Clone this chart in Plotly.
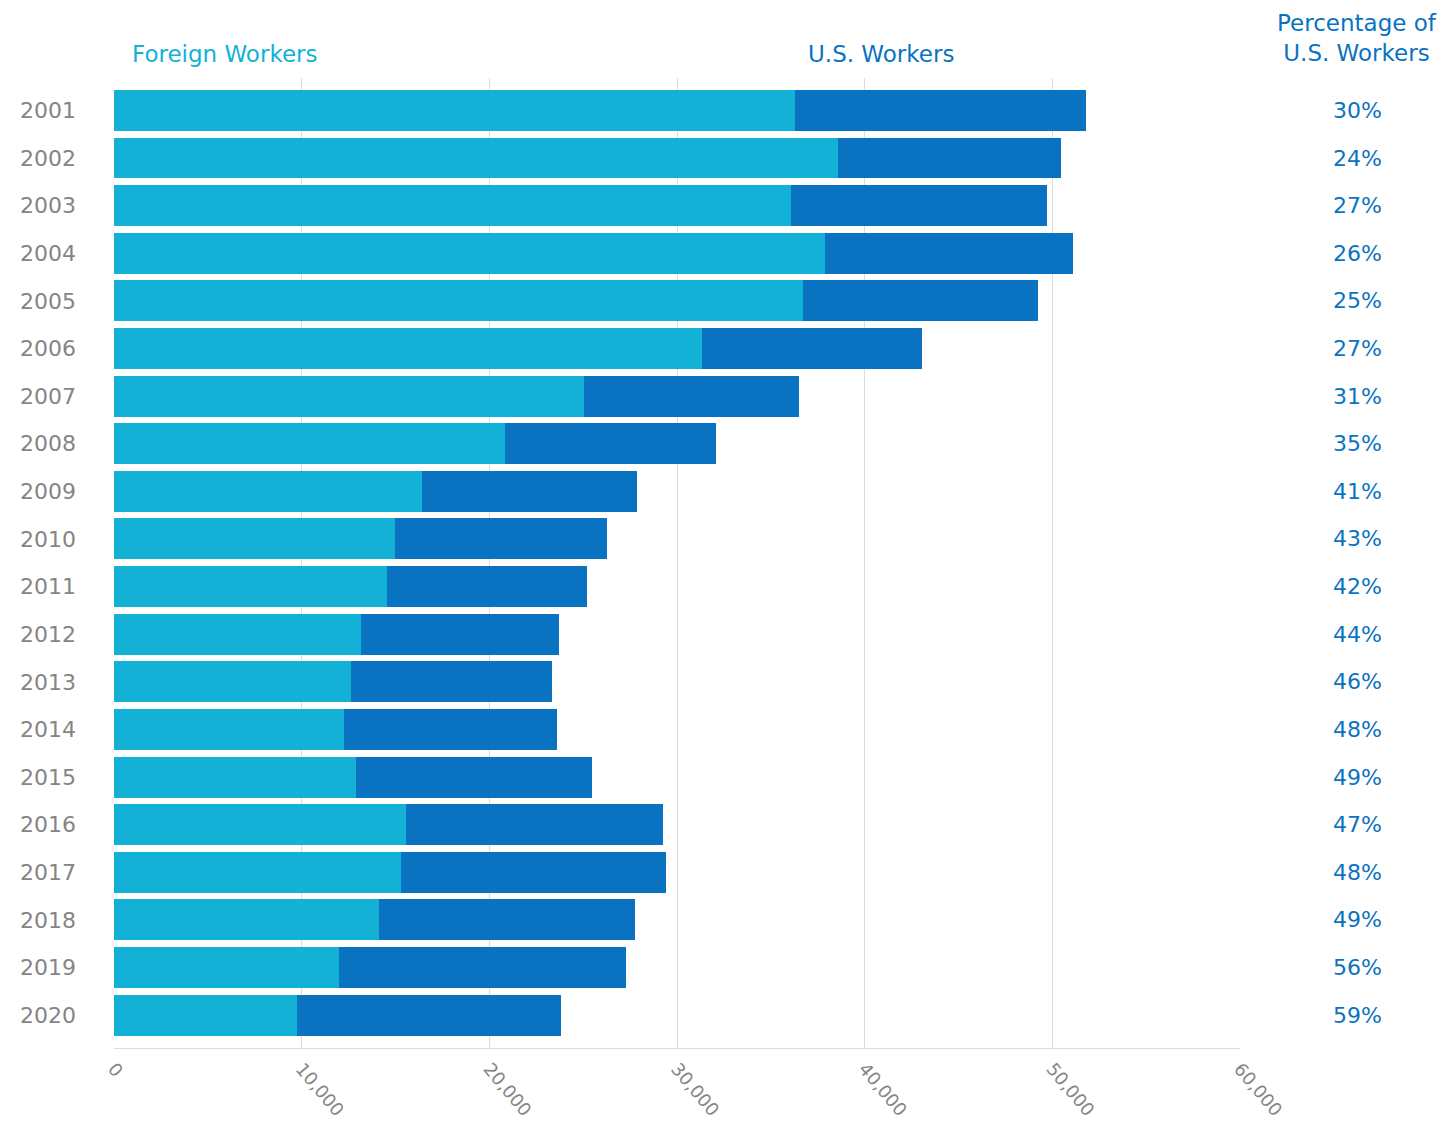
import plotly.graph_objects as go

years = [str(y) for y in range(2001, 2021)]
foreign = [36280, 38570, 36070, 37880, 36710, 31330, 25040, 20830, 16410, 14970,
           14540, 13160, 12630, 12250, 12890, 15560, 15290, 14120, 11990, 9750]
totals = [51790, 50450, 49710, 51090, 49230, 43050, 36490, 32070, 27860, 26270,
          25200, 23710, 23340, 23600, 25470, 29250, 29410, 27760, 27280, 23810]
us = [t - f for t, f in zip(totals, foreign)]
pct_labels = ["30%", "24%", "27%", "26%", "25%", "27%", "31%", "35%", "41%", "43%",
              "42%", "44%", "46%", "48%", "49%", "47%", "48%", "49%", "56%", "59%"]
tick_vals = [0, 10000, 20000, 30000, 40000, 50000, 60000]
tick_text = ["0", "10,000", "20,000", "30,000", "40,000", "50,000", "60,000"]

C_FOREIGN = "#14b1d7"
C_US = "#0a73c1"
C_TEXT = "#858585"
FONT = "DejaVu Sans"

# page has an 8px body margin; work in figure coordinates
OFF = 8
FW, FH = 1440, 1117
W0, W1 = 114 - OFF, 1240 - OFF
H0, H1 = 78 - OFF, 1048 - OFF

def px_x(px):
    return (px - OFF - W0) / (W1 - W0)

def px_y(py):
    return (H1 - (py - OFF)) / (H1 - H0)

fig = go.Figure()
fig.add_trace(go.Bar(y=years, x=foreign, orientation="h",
                     marker=dict(color=C_FOREIGN, line=dict(width=0)), name="Foreign Workers"))
fig.add_trace(go.Bar(y=years, x=us, orientation="h",
                     marker=dict(color=C_US, line=dict(width=0)), name="U.S. Workers"))

for i, p in enumerate(pct_labels):
    fig.add_annotation(x=px_x(1357), xref="paper", y=i, yref="y", text=p, showarrow=False,
                       font=dict(family=FONT, size=22, color=C_US), xanchor="center", yanchor="middle")

fig.add_annotation(x=px_x(130), y=px_y(54), xref="paper", yref="paper", text="Foreign Workers",
                   showarrow=False, xanchor="left", yanchor="middle",
                   font=dict(family=FONT, size=23, color=C_FOREIGN))
fig.add_annotation(x=px_x(881), y=px_y(54), xref="paper", yref="paper", text="U.S. Workers",
                   showarrow=False, xanchor="center", yanchor="middle",
                   font=dict(family=FONT, size=23, color=C_US))
fig.add_annotation(x=px_x(1357), y=px_y(38), xref="paper", yref="paper",
                   text="Percentage of<br>U.S. Workers",
                   showarrow=False, xanchor="center", yanchor="middle",
                   font=dict(family=FONT, size=23, color=C_US))

fig.update_layout(
    width=FW, height=FH,
    barmode="stack", bargap=0.14,
    showlegend=False,
    plot_bgcolor="white", paper_bgcolor="white",
    margin=dict(l=W0, r=FW - W1, t=H0, b=FH - H1, autoexpand=False),
    font=dict(family=FONT, color=C_TEXT),
    xaxis=dict(range=[0, 60000], tickvals=tick_vals, ticktext=tick_text, tickangle=50,
               showgrid=True, gridcolor="#dcdcdc", gridwidth=1, zeroline=False,
               showline=True, linecolor="#dcdcdc", linewidth=1, automargin=False,
               tickfont=dict(family=FONT, size=18, color=C_TEXT), ticks="", ticklabelstandoff=2),
    yaxis=dict(type="category", range=[19.69, -0.68], showgrid=False, zeroline=False,
               automargin=False,
               tickfont=dict(family=FONT, size=22, color=C_TEXT), ticks="", ticklabelstandoff=37),
)

fig.write_html("out.html")
